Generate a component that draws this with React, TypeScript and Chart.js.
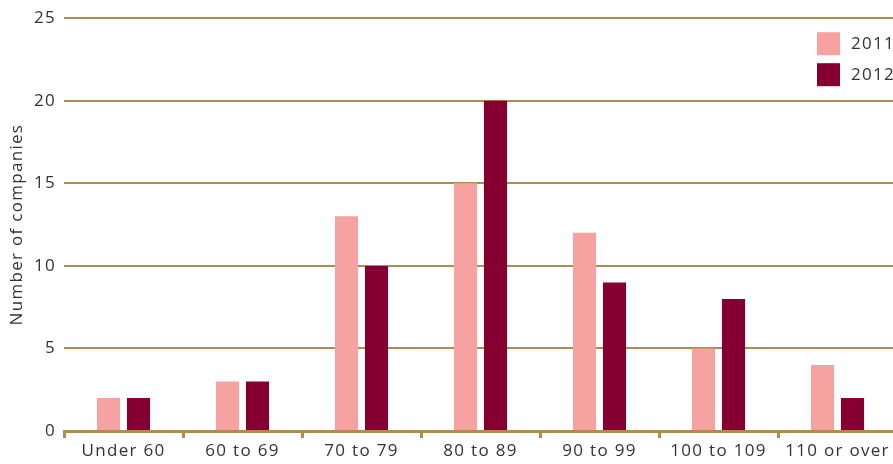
import React, { useEffect, useRef } from "react";
import { Chart, registerables } from "chart.js";

Chart.register(...registerables);

const categories = ["Under 60", "60 to 69", "70 to 79", "80 to 89", "90 to 99", "100 to 109", "110 or over"];
const values2011 = [2, 3, 13, 15, 12, 5, 4];
const values2012 = [2, 3, 10, 20, 9, 8, 2];
const seriesLabels = ["2011", "2012"];
const yTicks = [0, 5, 10, 15, 20, 25];

const FONT = "'Open Sans', sans-serif";
const TAN = "#b08b52";
const TEXT = "#333333";
const SPACING = "1.3px";

const spacingPlugin = {
  id: "letterSpacing",
  beforeInit(chart: any) { (chart.ctx as any).letterSpacing = SPACING; },
  beforeUpdate(chart: any) { (chart.ctx as any).letterSpacing = SPACING; },
  beforeDraw(chart: any) { (chart.ctx as any).letterSpacing = SPACING; },
};

const legendPlugin = {
  id: "floatLegend",
  afterDraw(chart: any) {
    const ctx = chart.ctx;
    const area = chart.chartArea;
    ctx.save();
    ctx.letterSpacing = SPACING;
    chart.data.datasets.forEach((ds: any, i: number) => {
      const x = area.right - 80;
      const y = area.top + 14 + i * 31;
      ctx.fillStyle = ds.backgroundColor;
      ctx.fillRect(x, y, 23, 23);
      ctx.fillStyle = TEXT;
      ctx.font = `17px ${FONT}`;
      ctx.textBaseline = "middle";
      ctx.textAlign = "left";
      ctx.fillText(ds.label, x + 34, y + 12);
    });
    ctx.restore();
  },
};

export default function App() {
  const ref = useRef<HTMLCanvasElement>(null);
  useEffect(() => {
    if (!ref.current) return;
    const chart = new Chart(ref.current, {
      type: "bar",
      data: {
        labels: categories,
        datasets: [
          { label: seriesLabels[0], data: values2011, backgroundColor: "#f5a2a1" },
          { label: seriesLabels[1], data: values2012, backgroundColor: "#850031" },
        ],
      },
      options: {
        responsive: false,
        animation: false,
        devicePixelRatio: 1,
        layout: { padding: { top: 5, right: 0, left: 0, bottom: 0 } },
        datasets: { bar: { categoryPercentage: 0.504, barPercentage: 0.77 } },
        plugins: { legend: { display: false }, tooltip: { enabled: false } },
        scales: {
          x: {
            offset: true,
            grid: {
              display: true,
              offset: true,
              drawOnChartArea: false,
              drawTicks: true,
              tickLength: 7,
              color: TAN,
              lineWidth: 3,
            },
            border: { display: true, color: TAN, width: 3 },
            ticks: { color: TEXT, font: { family: FONT, size: 17 }, padding: 3, maxRotation: 0, autoSkip: false },
            afterFit: (s: any) => { s.height = 33; },
          },
          y: {
            min: 0,
            max: 25,
            afterBuildTicks: (s: any) => { s.ticks = yTicks.map((v) => ({ value: v })); },
            grid: { color: TAN, lineWidth: 2, drawTicks: false },
            border: { display: false },
            ticks: { color: TEXT, font: { family: FONT, size: 17 }, padding: 8 },
            title: {
              display: true,
              text: "Number of companies",
              color: TEXT,
              font: { family: FONT, size: 17 },
              padding: { top: 7, bottom: 0 },
            },
            afterFit: (s: any) => { s.width = 64; },
          },
        },
      },
      plugins: [spacingPlugin, legendPlugin],
    });
    return () => chart.destroy();
  }, []);
  return (
    <div style={{ position: "fixed", left: 0, top: 0, width: 893, height: 464, overflow: "hidden", background: "#fff" }}>
      <canvas ref={ref} width={897} height={464} style={{ display: "block" }} />
    </div>
  );
}
